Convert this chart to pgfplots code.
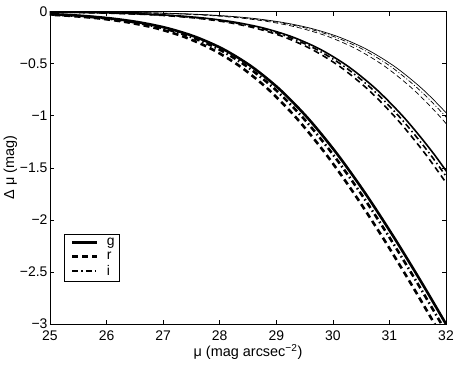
\documentclass[border=0pt]{standalone}
\usepackage{fontspec}
\setmainfont{Liberation Sans}
\usepackage{pgfplots}
\pgfplotsset{compat=1.18}

\newcommand{\fsz}{\fontsize{14}{16}\selectfont}

\begin{document}
\begin{tikzpicture}[x=1bp,y=1bp]
\useasboundingbox (-50,-40) rectangle (408,324);
\begin{axis}[
    at={(0,0)}, anchor=south west,
    scale only axis, width=396bp, height=312.5bp,
    xmin=25, xmax=32, ymin=-3, ymax=0,
    xtick={25,26,27,28,29,30,31,32},
    xticklabels={25,26,27,28,29,30,31,32},
    ytick={-3,-2.5,-2,-1.5,-1,-0.5,0},
    yticklabels={−3,−2.5,−2,−1.5,−1,−0.5,0},
    tick align=inside,
    major tick length=4bp,
    tick style={black, line width=0.5bp},
    axis line style={black, line width=0.7bp},
    tick label style={font=\fsz},
    xticklabel style={yshift=-3bp},
    yticklabel style={xshift=1bp},
    xlabel={μ (mag arcsec\textsuperscript{−2})},
    ylabel={Δ μ (mag)},
    label style={font=\fontsize{14.5}{16}\selectfont},
    xlabel style={yshift=3bp},
    ylabel style={yshift=-4bp},
    legend style={font=\fsz, at={(0.035,0.288)}, anchor=north west,
        draw=black, line width=0.6bp, inner xsep=3bp, inner ysep=2bp,
        row sep=0.5bp},
    legend cell align=left,
    legend image code/.code={%
        \path (-4bp,0bp) (31bp,0bp);
        \draw[#1] (0bp,0bp) -- (25bp,0bp);},
]
% thick group
\addplot[black, line width=2.6bp, smooth] coordinates {
 (24.57,-0.0171)(25.07,-0.0269)(25.57,-0.0424)(26.07,-0.0664)(26.57,-0.1035)
 (27.07,-0.1597)(27.57,-0.2433)(28.07,-0.3638)(28.57,-0.5311)(29.07,-0.7526)
 (29.57,-1.0311)(30.07,-1.3639)(30.57,-1.7433)(31.07,-2.1598)(31.57,-2.6035)
 (32.07,-3.0665)(32.57,-3.5424)};
\addlegendentry{g}
\addplot[black, line width=2.6bp, smooth, dash pattern=on 6bp off 4bp] coordinates {
 (24.37,-0.0171)(24.87,-0.0269)(25.37,-0.0424)(25.87,-0.0664)(26.37,-0.1035)
 (26.87,-0.1597)(27.37,-0.2433)(27.87,-0.3638)(28.37,-0.5311)(28.87,-0.7526)
 (29.37,-1.0311)(29.87,-1.3639)(30.37,-1.7433)(30.87,-2.1598)(31.37,-2.6035)
 (31.87,-3.0665)(32.37,-3.5424)};
\addlegendentry{r}
\addplot[black, line width=2.6bp, smooth, dash pattern=on 6bp off 3bp on 1.5bp off 3bp] coordinates {
 (24.49,-0.0171)(24.99,-0.0269)(25.49,-0.0424)(25.99,-0.0664)(26.49,-0.1035)
 (26.99,-0.1597)(27.49,-0.2433)(27.99,-0.3638)(28.49,-0.5311)(28.99,-0.7526)
 (29.49,-1.0311)(29.99,-1.3639)(30.49,-1.7433)(30.99,-2.1598)(31.49,-2.6035)
 (31.99,-3.0665)(32.49,-3.5424)};
\addlegendentry{i}
% medium group
\addplot[black, line width=1.6bp, smooth, forget plot] coordinates {
 (24.78,-0.0043)(25.28,-0.0068)(25.78,-0.0108)(26.28,-0.0171)(26.78,-0.0269)
 (27.28,-0.0424)(27.78,-0.0664)(28.28,-0.1035)(28.78,-0.1597)(29.28,-0.2433)
 (29.78,-0.3638)(30.28,-0.5311)(30.78,-0.7526)(31.28,-1.0311)(31.78,-1.3639)
 (32.28,-1.7433)};
\addplot[black, line width=1.6bp, smooth, dash pattern=on 6bp off 4bp, forget plot] coordinates {
 (24.63,-0.0043)(25.13,-0.0068)(25.63,-0.0108)(26.13,-0.0171)(26.63,-0.0269)
 (27.13,-0.0424)(27.63,-0.0664)(28.13,-0.1035)(28.63,-0.1597)(29.13,-0.2433)
 (29.63,-0.3638)(30.13,-0.5311)(30.63,-0.7526)(31.13,-1.0311)(31.63,-1.3639)
 (32.13,-1.7433)};
\addplot[black, line width=1.6bp, smooth, dash pattern=on 6bp off 3bp on 1.5bp off 3bp, forget plot] coordinates {
 (24.71,-0.0043)(25.21,-0.0068)(25.71,-0.0108)(26.21,-0.0171)(26.71,-0.0269)
 (27.21,-0.0424)(27.71,-0.0664)(28.21,-0.1035)(28.71,-0.1597)(29.21,-0.2433)
 (29.71,-0.3638)(30.21,-0.5311)(30.71,-0.7526)(31.21,-1.0311)(31.71,-1.3639)
 (32.21,-1.7433)};
% thin group
\addplot[black, line width=0.7bp, smooth, forget plot] coordinates {
 (24.60,-0.0017)(25.10,-0.0027)(25.60,-0.0043)(26.10,-0.0068)(26.60,-0.0108)
 (27.10,-0.0171)(27.60,-0.0269)(28.10,-0.0424)(28.60,-0.0664)(29.10,-0.1035)
 (29.60,-0.1597)(30.10,-0.2433)(30.60,-0.3638)(31.10,-0.5311)(31.60,-0.7526)
 (32.10,-1.0311)(32.60,-1.3639)};
\addplot[black, line width=0.7bp, smooth, dash pattern=on 5bp off 3bp, forget plot] coordinates {
 (24.43,-0.0017)(24.93,-0.0027)(25.43,-0.0043)(25.93,-0.0068)(26.43,-0.0108)
 (26.93,-0.0171)(27.43,-0.0269)(27.93,-0.0424)(28.43,-0.0664)(28.93,-0.1035)
 (29.43,-0.1597)(29.93,-0.2433)(30.43,-0.3638)(30.93,-0.5311)(31.43,-0.7526)
 (31.93,-1.0311)(32.43,-1.3639)};
\addplot[black, line width=0.7bp, smooth, dash pattern=on 5bp off 2bp on 1bp off 2bp, forget plot] coordinates {
 (24.53,-0.0017)(25.03,-0.0027)(25.53,-0.0043)(26.03,-0.0068)(26.53,-0.0108)
 (27.03,-0.0171)(27.53,-0.0269)(28.03,-0.0424)(28.53,-0.0664)(29.03,-0.1035)
 (29.53,-0.1597)(30.03,-0.2433)(30.53,-0.3638)(31.03,-0.5311)(31.53,-0.7526)
 (32.03,-1.0311)(32.53,-1.3639)};
\end{axis}
\end{tikzpicture}
\end{document}
